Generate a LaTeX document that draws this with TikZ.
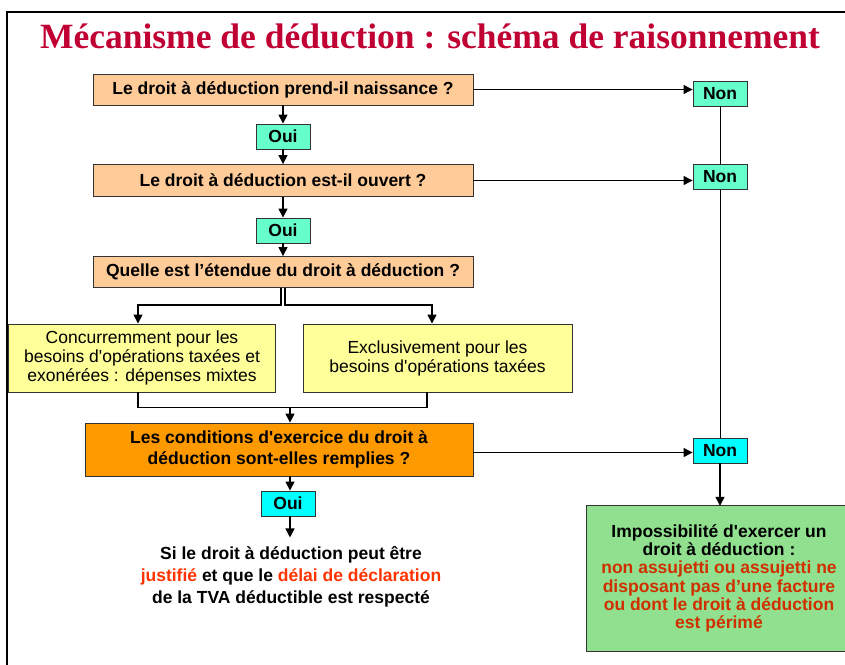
\documentclass[tikz,border=0pt]{standalone}
\usepackage{fontspec}
\setmainfont{Liberation Sans}[Ligatures=TeXOff]
\newfontfamily\titlefont{Liberation Serif}
\usetikzlibrary{arrows.meta}
\definecolor{peach}{HTML}{FFCC99}
\definecolor{aqua}{HTML}{66FFCC}
\definecolor{cyanbox}{HTML}{00FFFF}
\definecolor{lightyel}{HTML}{FFFF99}
\definecolor{orangebox}{HTML}{FF9900}
\definecolor{greenbox}{HTML}{90E090}
\definecolor{titlered}{HTML}{C00033}
\definecolor{redtext}{HTML}{FF3300}
\definecolor{darkredtext}{HTML}{D03000}
\begin{document}
\begin{tikzpicture}[x=1pt,y=-1pt,
  box/.style={draw=black!80, line width=0.9pt, align=center, inner sep=0pt,
    font=\bfseries\fontsize{17.5}{21}\selectfont},
  qbox/.style={box, fill=peach, minimum width=380pt, minimum height=31pt},
  ynbox/.style={box, minimum width=54pt, minimum height=25pt},
  yelbox/.style={box, fill=lightyel, minimum height=68pt, font=\fontsize{17.5}{19}\selectfont},
  conn/.style={line width=1.5pt, -{Triangle[length=9pt,width=9pt]}},
  conntwo/.style={line width=1.2pt, -{Triangle[length=9pt,width=9pt]}},
  plain/.style={line width=1.5pt},
  thinline/.style={line width=1pt}]
\useasboundingbox (0,0) rectangle (845,664);
% frame
\draw[line width=2pt] (7,665) -- (7,12) -- (846,12);
% title
\node[font=\titlefont\bfseries\fontsize{35.5}{40}\selectfont, text=titlered, inner sep=0pt] (title) at (430,36) {Mécanisme de déduction : schéma de raisonnement};
% left column
\node[qbox] (b1) at (283,89.5) {Le droit à déduction prend-il naissance ?};
\node[ynbox, fill=aqua] (o1) at (283,136.5) {Oui};
\node[qbox, minimum height=32pt] (b2) at (283,180.5) {Le droit à déduction est-il ouvert ?};
\node[ynbox, fill=aqua] (o2) at (283,230.5) {Oui};
\node[qbox] (b3) at (283,272) {Quelle est l’étendue du droit à déduction ?};
\node[yelbox, minimum width=267pt] (y1) at (142,358) {Concurremment pour les\\besoins d'opérations taxées et\\exonérées : dépenses mixtes};
\node[yelbox, minimum width=269pt] (y2) at (437.5,358) {Exclusivement pour les\\besoins d'opérations taxées};
\node[box, fill=orangebox, minimum width=388pt, minimum height=53pt] (b4) at (279,449.5) {Les conditions d'exercice du droit à\\déduction sont-elles remplies ?};
\node[ynbox, fill=cyanbox] (o3) at (288,503.5) {Oui};
\node[font=\bfseries\fontsize{17.5}{22}\selectfont, align=center, inner sep=0pt] (res) at (291,577) {Si le droit à déduction peut être\\\textcolor{redtext}{justifié} et que le \textcolor{redtext}{délai de déclaration}\\de la TVA déductible est respecté};
% right column
\node[ynbox, fill=aqua] (n1) at (720,93.5) {Non};
\node[ynbox, fill=aqua] (n2) at (720,177) {Non};
\node[ynbox, fill=cyanbox] (n3) at (720,450.5) {Non};
\node[fill=greenbox, minimum width=258pt, minimum height=145pt, inner sep=0pt, align=center,
  font=\bfseries\fontsize{17.5}{18.3}\selectfont] (g) at (716,578.5)
  {\hspace*{6pt}Impossibilité d'exercer un\\\hspace*{6pt}droit à déduction :\\\hspace*{6pt}\textcolor{darkredtext}{non assujetti ou assujetti ne}\\\hspace*{6pt}\textcolor{darkredtext}{disposant pas d’une facture}\\\hspace*{6pt}\textcolor{darkredtext}{ou dont le droit à déduction}\\\hspace*{6pt}\textcolor{darkredtext}{est périmé}};
\draw[draw=black!80, line width=0.9pt] (g.north east) -- (g.north west) -- (g.south west) -- (g.south east);
% vertical connectors
\draw[conn] (o1.north |- b1.south) -- (o1.north);
\draw[conn] (o1.south) -- (o1.south |- b2.north);
\draw[conn] (o2.north |- b2.south) -- (o2.north);
\draw[conn] (o2.south) -- (o2.south |- b3.north);
% split
\draw[conn] ([xshift=-2pt]b3.south) -- ++(0,17) -| ([xshift=-4pt]y1.north);
\draw[conn] ([xshift=2pt]b3.south) -- ++(0,17) -| ([xshift=-5.5pt]y2.north);
% join
\draw[plain] ([xshift=-4pt]y1.south) -- ++(0,15) -| ([xshift=-10.5pt]y2.south);
\coordinate (j) at (290,407);
\draw[conn] (j) -- (j |- b4.north);
\draw[conn] (j |- b4.south) -- (j |- o3.north);
\draw[conn] (j |- o3.south) -- ++(0,21);
% Non arrows
\draw[conntwo] (b1.east) -- (b1.east -| n1.west);
\draw[conntwo] (b2.east) -- (b2.east -| n2.west);
\draw[conntwo] ([yshift=-3pt]b4.east) -- ([yshift=-3pt]b4.east -| n3.west);
\draw[thinline] (n1.south) -- (n2.north);
\draw[thinline] (n2.south) -- (n3.north);
\draw[conntwo] (n3.south) -- (n3.south |- g.north);
\end{tikzpicture}
\end{document}
